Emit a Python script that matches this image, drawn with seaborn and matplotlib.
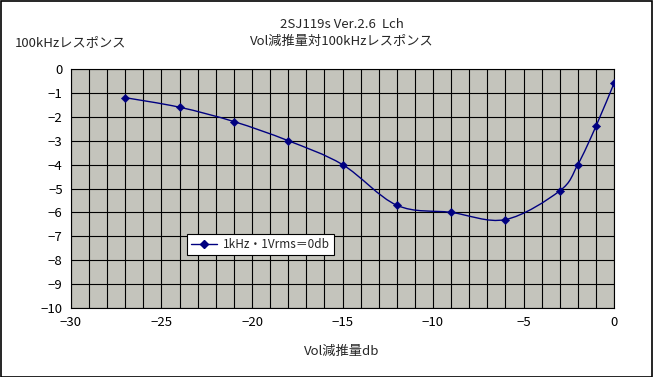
import numpy as np
import matplotlib
matplotlib.use("Agg")
import matplotlib.pyplot as plt
import seaborn as sns
from matplotlib.path import Path
from matplotlib.patches import PathPatch, Rectangle
from matplotlib.lines import Line2D

# データ
vol_db = [-27, -24, -21, -18, -15, -12, -9, -6, -3, -2, -1, 0]
resp_100k = [-1.2, -1.6, -2.2, -3.0, -4.0, -5.7, -6.0, -6.3, -5.1, -4.0, -2.4, -0.6]
series_name = "1kHz・1Vrms＝0db"
title_lines = "2SJ119s Ver.2.6  Lch\nVol減推量対100kHzレスポンス"
x_label = "Vol減推量db"
y_label = "100kHzレスポンス"

sns.set_style("white")
plt.rcParams['font.family'] = ['Noto Sans CJK JP', 'DejaVu Sans']
plt.rcParams['axes.unicode_minus'] = True

fig = plt.figure(figsize=(6.53, 3.77), dpi=100)
W, H = 653, 377
ax = fig.add_axes([71 / W, 1 - 308 / H, (614 - 71) / W, (308 - 69) / H])
ax.set_facecolor('#c4c4bc')

# 点（seaborn）
sns.scatterplot(x=vol_db, y=resp_100k, ax=ax, marker='D', s=18,
                color='#000080', edgecolor='#000080', zorder=4)

# Excel風の平滑線（Catmull-Rom → ベジェ）
pts = np.column_stack([vol_db, resp_100k])
verts = [tuple(pts[0])]
codes = [Path.MOVETO]
n = len(pts)
for i in range(n - 1):
    p0 = pts[max(i - 1, 0)]
    p1 = pts[i]
    p2 = pts[i + 1]
    p3 = pts[min(i + 2, n - 1)]
    c1 = p1 + (p2 - p0) / 6
    c2 = p2 - (p3 - p1) / 6
    verts += [tuple(c1), tuple(c2), tuple(p2)]
    codes += [Path.CURVE4] * 3
ax.add_patch(PathPatch(Path(verts, codes), facecolor='none',
                       edgecolor='#000080', lw=1.0, zorder=3))

ax.set_xlim(-30, 0)
ax.set_ylim(-10, 0)
ax.set_xticks(range(-30, 1, 5))
ax.set_xticks(range(-30, 1, 1), minor=True)
ax.set_yticks(range(-10, 1, 1))
ax.grid(True, which='both', color='black', lw=0.8)
ax.set_axisbelow(True)
ax.tick_params(which='both', length=0, labelsize=9.5, pad=6, colors='black')
for s in ax.spines.values():
    s.set_color('black')
    s.set_linewidth(0.8)

handle = Line2D([], [], color='#000080', marker='D', markersize=4, lw=1.0)
leg = ax.legend([handle], [series_name], loc='lower left',
                bbox_to_anchor=(0.214, 0.22), fancybox=False, framealpha=1,
                edgecolor='black', fontsize=8.5, handlelength=2.2,
                handletextpad=0.5, borderpad=0.35, borderaxespad=0)
leg.get_frame().set_linewidth(0.8)

fig.text(342 / W, 1 - 33 / H, title_lines, ha='center', va='center',
         fontsize=9.5, linespacing=1.3)
fig.text(15 / W, 1 - 43 / H, y_label, ha='left', va='center', fontsize=9.5)
fig.text(342 / W, 1 - 351 / H, x_label, ha='center', va='center', fontsize=9.5)

fig.patches.append(Rectangle((0.5 / W, 0.5 / H), 1 - 1.5 / W, 1 - 1.5 / H,
                             transform=fig.transFigure, fill=False,
                             edgecolor='black', lw=1.2))

fig.savefig("out.png", dpi=100)
